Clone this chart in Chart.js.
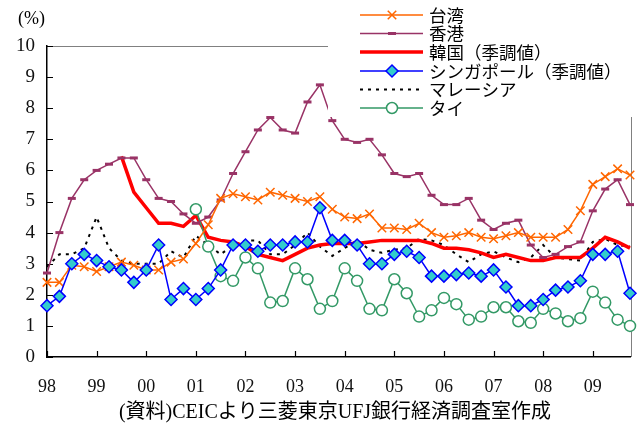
<!DOCTYPE html>
<html>
<head>
<meta charset="utf-8">
<script src="https://cdn.jsdelivr.net/npm/chart.js@4.4.1/dist/chart.umd.min.js"></script>
<style>
  html, body { margin: 0; padding: 0; background: #fff; }
  #wrap { width: 642px; height: 430px; }
</style>
</head>
<body>
<div id="wrap"><canvas id="myChart" width="642" height="430"></canvas></div>
<script>
// quarterly, 1998Q1 - 2009Q4
const years = ["98", "99", "00", "01", "02", "03", "04", "05", "06", "07", "08", "09"];
const yTicks = [0, 1, 2, 3, 4, 5, 6, 7, 8, 9, 10];

const taiwan = [2.4, 2.4, 2.95, 2.9, 2.75, 2.9, 3.05, 2.95, 2.8, 2.8,
  3.05, 3.15, 3.65, 4.25, 5.1, 5.25, 5.15, 5.05, 5.3, 5.2,
  5.1, 5.0, 5.15, 4.75, 4.5, 4.45, 4.6, 4.15, 4.15, 4.1,
  4.3, 4.0, 3.85, 3.9, 4.0, 3.85, 3.8, 3.9, 4.0, 3.85,
  3.85, 3.85, 4.1, 4.7, 5.55, 5.8, 6.05, 5.85];
const hongkong = [2.7, 4.0, 5.1, 5.7, 6.0, 6.2, 6.4, 6.4, 5.7, 5.1,
  5.0, 4.6, 4.3, 4.5, 5.05, 5.9, 6.6, 7.3, 7.7, 7.3,
  7.2, 8.2, 8.75, 7.6, 7.0, 6.9, 7.0, 6.5, 5.9, 5.8,
  5.9, 5.2, 4.9, 4.9, 5.1, 4.4, 4.1, 4.3, 4.4, 3.6,
  3.2, 3.3, 3.55, 3.7, 4.7, 5.4, 5.7, 4.9];
const korea = [null, null, null, null, null, null, 6.45, 5.3, 4.8, 4.3,
  4.3, 4.2, 4.55, 3.85, 3.75, 3.7, 3.55, 3.3, 3.2, 3.1,
  3.3, 3.5, 3.6, 3.65, 3.65, 3.65, 3.7, 3.75, 3.75, 3.75,
  3.75, 3.65, 3.5, 3.5, 3.45, 3.35, 3.2, 3.3, 3.2, 3.1,
  3.1, 3.2, 3.2, 3.2, 3.5, 3.85, 3.7, 3.5];
const singapore = [1.65, 1.95, 3.0, 3.3, 3.1, 2.9, 2.8, 2.4, 2.8, 3.6,
  1.85, 2.2, 1.85, 2.2, 2.8, 3.6, 3.6, 3.4, 3.6, 3.6,
  3.7, 3.7, 4.8, 3.75, 3.75, 3.6, 3.0, 3.0, 3.3, 3.4,
  3.2, 2.6, 2.6, 2.65, 2.7, 2.6, 2.8, 2.25, 1.65, 1.65,
  1.85, 2.15, 2.25, 2.45, 3.3, 3.3, 3.4, 2.05];
const malaysia = [2.9, 3.3, 3.3, 3.5, 4.5, 3.5, 3.1, 3.0, 3.0, 3.0,
  3.4, 3.2, 3.9, 3.6, 3.3, 3.6, 3.75, 3.75, 3.3, 3.3,
  3.6, 4.0, 3.55, 3.25, 3.5, 3.75, 3.45, 3.35, 3.45, 3.5,
  3.8, 3.75, 3.6, 3.3, 3.05, 3.3, 3.4, 3.2, 3.05, 3.2,
  3.6, 3.2, 3.15, 3.1, 3.7, 3.8, 3.6, 3.55];
const thailand = [null, null, null, null, null, null, null, null, null, null,
  null, null, 4.75, 3.55, 2.6, 2.45, 3.2, 2.85, 1.75, 1.8,
  2.85, 2.5, 1.55, 1.8, 2.85, 2.45, 1.55, 1.5, 2.5, 2.05,
  1.3, 1.5, 1.9, 1.7, 1.2, 1.3, 1.6, 1.6, 1.15, 1.1,
  1.55, 1.4, 1.15, 1.25, 2.1, 1.75, 1.2, 1.0];

const labels = [];
years.forEach((y) => { for (let q = 1; q <= 4; q++) labels.push(y + "Q" + q); });

const serif = "'Liberation Serif', 'Noto Sans CJK JP', serif";
const gothic = "'Noto Sans CJK JP', sans-serif";

const datasets = [
  { label: "台湾", data: taiwan, borderColor: "#FF6600", backgroundColor: "#FF6600",
    borderWidth: 1.5, pointStyle: "crossRot", pointRadius: 6, pointBorderWidth: 1.5, order: 2 },
  { label: "香港", data: hongkong, borderColor: "#993366", backgroundColor: "#993366",
    borderWidth: 1.5, pointStyle: "line", pointRadius: 4, pointBorderWidth: 3, order: 3 },
  { label: "韓国（季調値）", data: korea, borderColor: "#FF0000", borderWidth: 3.5,
    pointRadius: 0, order: 5 },
  { label: "シンガポール（季調値）", data: singapore, borderColor: "#0000FF", backgroundColor: "#33CCCC",
    borderWidth: 1.5, pointStyle: "rectRot", pointRadius: 6, pointBorderWidth: 1.5, order: 1 },
  { label: "マレーシア", data: malaysia, borderColor: "#000000", borderWidth: 2,
    borderDash: [3, 5], pointRadius: 0, order: 6 },
  { label: "タイ", data: thailand, borderColor: "#339966", backgroundColor: "#FFFFFF",
    borderWidth: 1.5, pointStyle: "circle", pointRadius: 5.5, pointBorderWidth: 1.5, order: 4 },
];

// frame (top/right) and inward tick marks
const framePlugin = {
  id: "frame",
  beforeDatasetsDraw(chart) {
    const { ctx, chartArea: a, scales } = chart;
    ctx.save();
    ctx.strokeStyle = "#808080";
    ctx.lineWidth = 1;
    ctx.beginPath();
    ctx.moveTo(a.left, a.top + 0.5);
    ctx.lineTo(a.right + 1.5, a.top + 0.5);
    ctx.moveTo(a.right + 1.5, a.top);
    ctx.lineTo(a.right + 1.5, a.bottom);
    ctx.stroke();
    ctx.strokeStyle = "#000";
    ctx.lineWidth = 1.2;
    ctx.beginPath();
    yTicks.forEach((v) => {
      const py = Math.round(scales.y.getPixelForValue(v)) + 0.5;
      ctx.moveTo(a.left, py);
      ctx.lineTo(a.left + 6, py);
    });
    years.forEach((y, i) => {
      const px = Math.round(scales.x.getPixelForValue(i * 4)) + 0.5;
      ctx.moveTo(px, a.bottom);
      ctx.lineTo(px, a.bottom - 6);
    });
    ctx.stroke();
    ctx.restore();
  },
  afterDraw(chart) {
    const ctx = chart.ctx;
    ctx.save();
    // legend box
    ctx.fillStyle = "#fff";
    ctx.fillRect(328, 0, 314, 117);
    const rowsY = [15, 33.5, 52, 71, 89.5, 108];
    chart.data.datasets.forEach((ds, i) => {
      const y = rowsY[i];
      ctx.strokeStyle = ds.borderColor;
      ctx.lineWidth = ds.borderWidth;
      ctx.setLineDash(ds.borderDash || []);
      ctx.beginPath();
      ctx.moveTo(360, y);
      ctx.lineTo(423, y);
      ctx.stroke();
      ctx.setLineDash([]);
      if (ds.pointRadius > 0) {
        ctx.strokeStyle = ds.borderColor;
        ctx.fillStyle = ds.backgroundColor;
        ctx.lineWidth = ds.pointBorderWidth;
        Chart.helpers.drawPoint(ctx, { pointStyle: ds.pointStyle, radius: ds.pointRadius, borderWidth: ds.pointBorderWidth, rotation: 0 }, 392, y);
      }
      ctx.fillStyle = "#000";
      ctx.font = "17.5px " + gothic;
      ctx.textBaseline = "middle";
      ctx.textAlign = "left";
      ctx.fillText(ds.label, 429, y);
    });
    ctx.font = "18px " + serif;
    ctx.fillText("(%)", 18, 19);
    ctx.textAlign = "center";
    ctx.font = "20px " + serif;
    ctx.fillText("(資料)CEICより三菱東京UFJ銀行経済調査室作成", 335, 413);
    ctx.restore();
  },
};

const ctx = document.getElementById("myChart");

new Chart(ctx, {
  type: "line",
  data: { labels: labels, datasets: datasets },
  options: {
    responsive: false,
    animation: false,
    layout: { padding: { top: 46, right: 12, left: 0, bottom: 0 } },
    elements: { line: { tension: 0 } },
    plugins: { legend: { display: false }, tooltip: { enabled: false } },
    scales: {
      x: {
        offset: false,
        grid: { display: false, drawTicks: false },
        border: { display: true, color: "#000", width: 1.5 },
        afterFit: (scale) => { scale.height = 73; },
        ticks: {
          autoSkip: false,
          maxRotation: 0,
          padding: 19,
          color: "#111",
          font: { family: serif, size: 18 },
          callback: function (value, index) {
            return index % 4 === 0 ? years[index / 4] : null;
          },
        },
      },
      y: {
        min: 0,
        max: 10,
        grid: { display: false, drawTicks: false },
        border: { display: true, color: "#000", width: 1.5 },
        afterFit: (scale) => { scale.width = 47; },
        afterBuildTicks: (scale) => { scale.ticks = yTicks.map((v) => ({ value: v })); },
        ticks: {
          padding: 12,
          color: "#111",
          font: { family: serif, size: 19 },
        },
      },
    },
  },
  plugins: [framePlugin],
});
</script>
</body>
</html>
